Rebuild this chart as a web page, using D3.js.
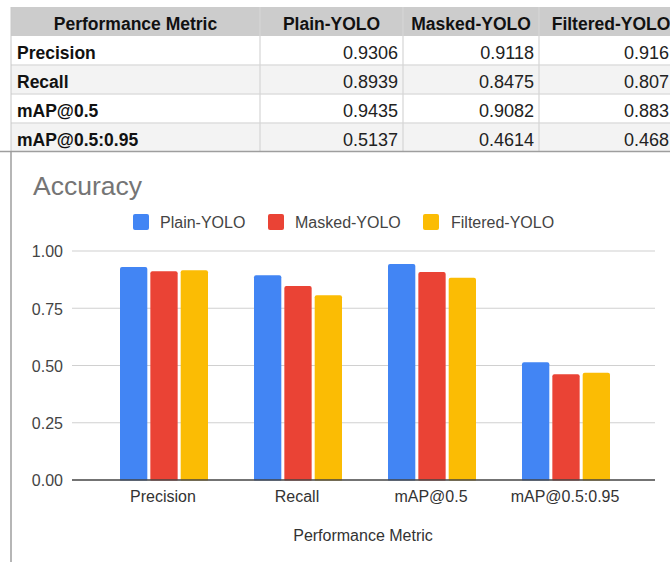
<!DOCTYPE html>
<html>
<head>
<meta charset="utf-8">
<script src="https://cdn.jsdelivr.net/npm/d3@7/dist/d3.min.js"></script>
<style>
  html, body { margin: 0; padding: 0; background: #fff; overflow: hidden; }
  svg { display: block; font-family: Arial, "Liberation Sans", sans-serif; }
</style>
</head>
<body>
<svg id="chart" width="670" height="562"></svg>
<script>
const categories = ["Precision", "Recall", "mAP@0.5", "mAP@0.5:0.95"];
const seriesNames = ["Plain-YOLO", "Masked-YOLO", "Filtered-YOLO"];
const plainValues = [0.9306, 0.8939, 0.9435, 0.5137];
const maskedValues = [0.9118, 0.8475, 0.9082, 0.4614];
const filteredValues = [0.916, 0.807, 0.883, 0.468];
// table cell texts as visible in the reference (Filtered column is cut at the window edge)
const tableValueText = {
  "Plain-YOLO": ["0.9306", "0.8939", "0.9435", "0.5137"],
  "Masked-YOLO": ["0.9118", "0.8475", "0.9082", "0.4614"],
  "Filtered-YOLO": ["0.916", "0.807", "0.883", "0.468"]
};
const yTicks = [0, 0.25, 0.5, 0.75, 1.0];
const colors = ["#4285F4", "#EA4335", "#FBBC04"];
const seriesValues = [plainValues, maskedValues, filteredValues];

const svg = d3.select("#chart");

// ---------- Table ----------
const colEdges = [11, 260, 403, 539, 683];
const valueRight = [398, 534, 669];
const rowEdges = [7, 36, 65, 94, 123, 151.5];
const headers = ["Performance Metric"].concat(seriesNames);
const table = svg.append("g");

table.append("rect").attr("x", colEdges[0]).attr("y", rowEdges[0])
  .attr("width", colEdges[4] - colEdges[0]).attr("height", rowEdges[1] - rowEdges[0])
  .attr("fill", "#cccccc");
categories.forEach((c, i) => {
  table.append("rect").attr("x", colEdges[0]).attr("y", rowEdges[i + 1])
    .attr("width", colEdges[4] - colEdges[0]).attr("height", rowEdges[i + 2] - rowEdges[i + 1])
    .attr("fill", i % 2 === 1 ? "#f3f3f3" : "#ffffff");
});
for (let i = 2; i < rowEdges.length - 1; i++) {
  table.append("line").attr("x1", colEdges[0]).attr("x2", 670)
    .attr("y1", rowEdges[i]).attr("y2", rowEdges[i]).attr("stroke", "#dedede").attr("stroke-width", 1.5);
}
colEdges.slice(1, 4).forEach(x => {
  table.append("line").attr("x1", x).attr("x2", x)
    .attr("y1", rowEdges[0]).attr("y2", rowEdges[5]).attr("stroke", "#d6d6d6").attr("stroke-width", 1.2);
});
table.append("line").attr("x1", colEdges[0]).attr("x2", colEdges[0])
  .attr("y1", rowEdges[0]).attr("y2", rowEdges[5]).attr("stroke", "#c8c8c8");

headers.forEach((h, j) => {
  table.append("text").attr("x", (colEdges[j] + colEdges[j + 1]) / 2).attr("y", 30)
    .attr("text-anchor", "middle").attr("font-size", 17.5).attr("font-weight", "bold")
    .attr("fill", "#111").text(h);
});
categories.forEach((c, i) => {
  const yb = rowEdges[i + 1] + 23;
  table.append("text").attr("x", colEdges[0] + 6).attr("y", yb)
    .attr("font-size", 17.5).attr("font-weight", "bold").attr("fill", "#111").text(c);
  seriesNames.forEach((s, j) => {
    table.append("text").attr("x", valueRight[j]).attr("y", yb)
      .attr("text-anchor", "end").attr("font-size", 18).attr("fill", "#222")
      .text(tableValueText[s][i]);
  });
});

// chart frame
svg.append("line").attr("x1", 0).attr("x2", 670).attr("y1", 151.5).attr("y2", 151.5)
  .attr("stroke", "#9e9e9e").attr("stroke-width", 1.5);
svg.append("line").attr("x1", 11).attr("x2", 11).attr("y1", 151.5).attr("y2", 562)
  .attr("stroke", "#9e9e9e").attr("stroke-width", 1.5);

// ---------- Chart ----------
svg.append("text").attr("x", 33).attr("y", 195).attr("font-size", 26.5)
  .attr("fill", "#757575").text("Accuracy");

const legendItems = [
  { x: 133, text: 160 },
  { x: 268, text: 295 },
  { x: 423, text: 451 }
];
seriesNames.forEach((s, i) => {
  svg.append("rect").attr("x", legendItems[i].x).attr("y", 214).attr("width", 16).attr("height", 16)
    .attr("rx", 2).attr("fill", colors[i]);
  svg.append("text").attr("x", legendItems[i].text).attr("y", 227.5).attr("font-size", 16)
    .attr("fill", "#444").text(s);
});

const y = d3.scaleLinear().domain([0, 1]).range([480, 251]);
const x0 = d3.scaleBand().domain(categories).range([96, 632]);
const groupW = 88;
const x1 = d3.scaleBand().domain(seriesNames).range([0, groupW]).paddingInner(0.1);

svg.append("g").selectAll("line").data(yTicks.filter(t => t > 0)).join("line")
  .attr("x1", 72).attr("x2", 655).attr("y1", d => y(d)).attr("y2", d => y(d))
  .attr("stroke", "#d0d0d0").attr("stroke-width", 1.2);

const yAxis = d3.axisLeft(y).tickValues(yTicks).tickFormat(d3.format(".2f")).tickSize(0).tickPadding(0);
const yg = svg.append("g").attr("transform", "translate(63,0)").call(yAxis);
yg.select(".domain").remove();
yg.selectAll("text").attr("font-size", 16).attr("fill", "#444")
  .attr("font-family", "Arial, 'Liberation Sans', sans-serif").attr("dy", "0.36em");

const groups = svg.append("g").selectAll("g").data(categories).join("g")
  .attr("transform", c => `translate(${x0(c) + x0.bandwidth() / 2 - groupW / 2 + 1},0)`);
groups.selectAll("rect").data((c, ci) => seriesNames.map((s, si) => ({ s, si, v: seriesValues[si][ci] })))
  .join("rect")
  .attr("x", d => x1(d.s))
  .attr("width", x1.bandwidth())
  .attr("y", d => y(d.v))
  .attr("height", d => y(0) - y(d.v) + 2)
  .attr("rx", 2)
  .attr("fill", d => colors[d.si]);

svg.append("rect").attr("x", 72).attr("y", 480.5).attr("width", 583).attr("height", 3).attr("fill", "#fff");

svg.append("line").attr("x1", 72).attr("x2", 655).attr("y1", y(0)).attr("y2", y(0))
  .attr("stroke", "#444").attr("stroke-width", 1.5);

const xAxis = d3.axisBottom(x0).tickSize(0).tickPadding(0);
const xg = svg.append("g").attr("transform", "translate(0,488)").call(xAxis);
xg.select(".domain").remove();
xg.selectAll("text").attr("font-size", 16).attr("fill", "#333")
  .attr("font-family", "Arial, 'Liberation Sans', sans-serif").attr("dy", "0.9em");

svg.append("text").attr("x", 363).attr("y", 541).attr("text-anchor", "middle")
  .attr("font-size", 16).attr("fill", "#333").text("Performance Metric");
</script>
</body>
</html>
